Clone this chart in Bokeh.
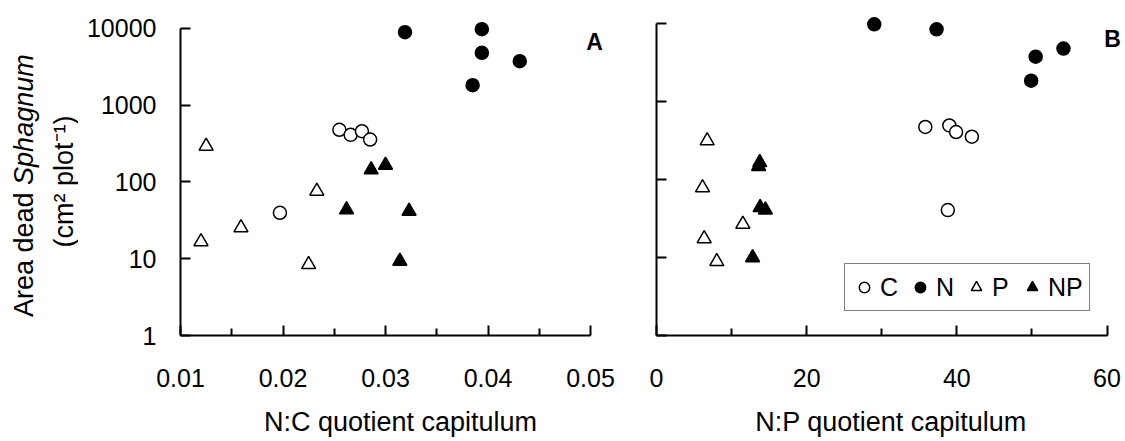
import math
from bokeh.plotting import figure
from bokeh.layouts import row
from bokeh.models import Range1d, FixedTicker, PrintfTickFormatter, Label, CustomJSTickFormatter
from bokeh.embed import file_html
from bokeh.resources import INLINE

# ---------------- data ----------------
# Panel A: N:C quotient capitulum vs area dead Sphagnum
C_nc = [0.0255, 0.0266, 0.0277, 0.0285, 0.0197]
C_area_a = [477, 410, 457, 356, 39.6]
N_nc = [0.0319, 0.0394, 0.0394, 0.0431, 0.0385]
N_area_a = [8900, 9730, 4800, 3730, 1816]
P_nc = [0.0125, 0.0120, 0.0159, 0.0233, 0.0225]
P_area_a = [292, 16.7, 25.3, 75.7, 8.4]
NP_nc = [0.0286, 0.0300, 0.0262, 0.0323, 0.0314]
NP_area_a = [144, 165, 43.3, 41.6, 9.3]

# Panel B: N:P quotient capitulum vs area dead Sphagnum
C_np = [35.8, 39.0, 39.9, 42.0, 38.8]
C_area_b = [475, 497, 409, 356, 40.7]
N_np = [29.0, 37.3, 50.5, 54.2, 49.9]
N_area_b = [9890, 8530, 3800, 4820, 1867]
P_np = [6.75, 6.13, 11.5, 6.35, 8.03]
P_area_b = [316, 78.7, 26.9, 17.5, 8.9]
NP_np = [13.75, 13.6, 13.8, 14.5, 12.8]
NP_area_b = [166, 148, 43.9, 41, 10]

y_ticks = [1, 10, 100, 1000, 10000]
nc_ticks = [0.01, 0.02, 0.03, 0.04, 0.05]
nc_minor = [0.015, 0.025, 0.035, 0.045]
np_ticks = [0, 20, 40, 60]
np_minor = [10, 30, 50]

y_title_1 = "Area dead"
y_title_italic = "Sphagnum"
y_title_2 = "(cm² plot⁻¹)"

FONT = "Liberation Sans"
H = 441
FH = 335          # frame height (axis line at y = 335 px)
BOTTOM = H - FH


def style_axes(p, xticks, xminor, xfmt, xbounds, show_ylabels):
    p.xgrid.grid_line_color = None
    p.ygrid.grid_line_color = None
    p.outline_line_color = None
    for ax in (p.xaxis[0], p.yaxis[0]):
        ax.axis_line_color = "black"
        ax.axis_line_width = 2
        ax.major_tick_line_color = "black"
        ax.major_tick_line_width = 2
        ax.major_tick_in = 10
        ax.major_tick_out = 0
        ax.major_label_text_font = FONT
        ax.major_label_text_font_size = "25px"
        ax.major_label_text_color = "black"
    xa = p.xaxis[0]
    xa.ticker = FixedTicker(ticks=xticks, minor_ticks=xminor)
    xa.formatter = PrintfTickFormatter(format=xfmt)
    xa.bounds = xbounds
    xa.minor_tick_line_color = "black"
    xa.minor_tick_line_width = 2
    xa.minor_tick_in = 7
    xa.minor_tick_out = 0
    xa.major_label_standoff = 33
    xa.axis_label_text_font = FONT
    xa.axis_label_text_font_size = "27px"
    xa.axis_label_text_font_style = "normal"
    xa.axis_label_text_color = "black"
    xa.axis_label_standoff = 17
    ya = p.yaxis[0]
    ya.ticker = FixedTicker(ticks=y_ticks, minor_ticks=[])
    if show_ylabels:
        ya.formatter = PrintfTickFormatter(format="%d")
    else:
        ya.formatter = CustomJSTickFormatter(code="return ''")
    ya.minor_tick_line_color = None
    ya.bounds = (1, 10000)
    ya.major_label_standoff = 24


def add_points(p, data, legend=False):
    specs = [
        ("C", "circle", 13, "white"),
        ("N", "circle", 13, "black"),
        ("P", "triangle", 14, "white"),
        ("NP", "triangle", 14, "black"),
    ]
    for (name, marker, size, fill), (xs, ys) in zip(specs, data):
        kw = dict(marker=marker, size=size, fill_color=fill,
                  line_color="black", line_width=1.5)
        if legend:
            kw["legend_label"] = name
        p.scatter(xs, ys, **kw)


# ---------------- y-axis title strip ----------------
TW = 78
pT = figure(width=TW, height=H, frame_width=TW, frame_height=FH,
            x_range=Range1d(0, TW), y_range=Range1d(0, FH),
            x_axis_location=None, y_axis_location=None,
            output_backend="svg", toolbar_location=None,
            min_border_left=0, min_border_right=0, min_border_top=0, min_border_bottom=BOTTOM,
            background_fill_color="white", border_fill_color="white")
pT.xgrid.grid_line_color = None
pT.ygrid.grid_line_color = None
pT.outline_line_color = None
# screen y measured upward from the frame bottom (canvas y = 335)
pT.add_layout(Label(x=23, y=FH - 316.5, x_units="screen", y_units="screen",
                    text=y_title_1, angle=90, angle_units="deg",
                    text_align="left", text_baseline="alphabetic",
                    text_font=FONT, text_font_size="27px", text_color="black"))
pT.add_layout(Label(x=23, y=FH - 184.4, x_units="screen", y_units="screen",
                    text=y_title_italic, angle=90, angle_units="deg",
                    text_align="left", text_baseline="alphabetic",
                    text_font=FONT, text_font_size="27px",
                    text_font_style="italic", text_color="black"))
pT.add_layout(Label(x=63, y=FH - 181, x_units="screen", y_units="screen",
                    text=y_title_2, angle=90, angle_units="deg",
                    text_align="center", text_baseline="alphabetic",
                    text_font=FONT, text_font_size="27px", text_color="black"))

# ---------------- panel A ----------------
A_left = 180 - TW
A_width = 620 - TW
A_fw = A_width - A_left
A_xend = 0.01 + 0.04 * A_fw / 410.0
pA = figure(width=A_width, height=H, frame_width=A_fw, frame_height=FH,
            x_range=Range1d(0.01, A_xend),
            y_range=Range1d(1, 10 ** (FH / 76.8)),
            y_axis_type="log",
            output_backend="svg", toolbar_location=None,
            min_border_left=A_left, min_border_right=0,
            min_border_top=0, min_border_bottom=BOTTOM,
            background_fill_color="white", border_fill_color="white")
style_axes(pA, nc_ticks, nc_minor, "%.2f", (0.01, 0.05), True)
pA.xaxis[0].axis_label = "N:C quotient capitulum"
add_points(pA, [(C_nc, C_area_a), (N_nc, N_area_a), (P_nc, P_area_a), (NP_nc, NP_area_a)])
pA.add_layout(Label(x=414, y=294, x_units="screen", y_units="screen",
                    text="A", text_align="center", text_baseline="middle",
                    text_font=FONT, text_font_size="23px",
                    text_font_style="bold", text_color="black"))

# ---------------- panel B ----------------
B_width = 1125 - 620
B_left = 36
B_fw = B_width - B_left
B_xend = 60.0 * B_fw / 450.5
pB = figure(width=B_width, height=H, frame_width=B_fw, frame_height=FH,
            x_range=Range1d(0, B_xend),
            y_range=Range1d(1, 10 ** (FH / 77.9)),
            y_axis_type="log",
            output_backend="svg", toolbar_location=None,
            min_border_left=B_left, min_border_right=0,
            min_border_top=0, min_border_bottom=BOTTOM,
            background_fill_color="white", border_fill_color="white")
style_axes(pB, np_ticks, np_minor, "%d", (0, 60), False)
pB.xaxis[0].axis_label = "N:P quotient capitulum"
add_points(pB, [(C_np, C_area_b), (N_np, N_area_b), (P_np, P_area_b), (NP_np, NP_area_b)], legend=True)
pB.add_layout(Label(x=456, y=297, x_units="screen", y_units="screen",
                    text="B", text_align="center", text_baseline="middle",
                    text_font=FONT, text_font_size="23px",
                    text_font_style="bold", text_color="black"))

lg = pB.legend[0]
lg.orientation = "horizontal"
lg.location = (188, 24)
lg.label_text_font = FONT
lg.label_text_font_size = "25px"
lg.label_text_color = "black"
lg.glyph_width = 26
lg.glyph_height = 34
lg.label_standoff = 3
lg.spacing = 7
lg.padding = 6
lg.margin = 0
lg.border_line_color = "black"
lg.border_line_width = 1.5
lg.background_fill_color = "white"
lg.background_fill_alpha = 1.0

layout = row(pT, pA, pB)
open("out.html", "w").write(file_html(layout, INLINE))
